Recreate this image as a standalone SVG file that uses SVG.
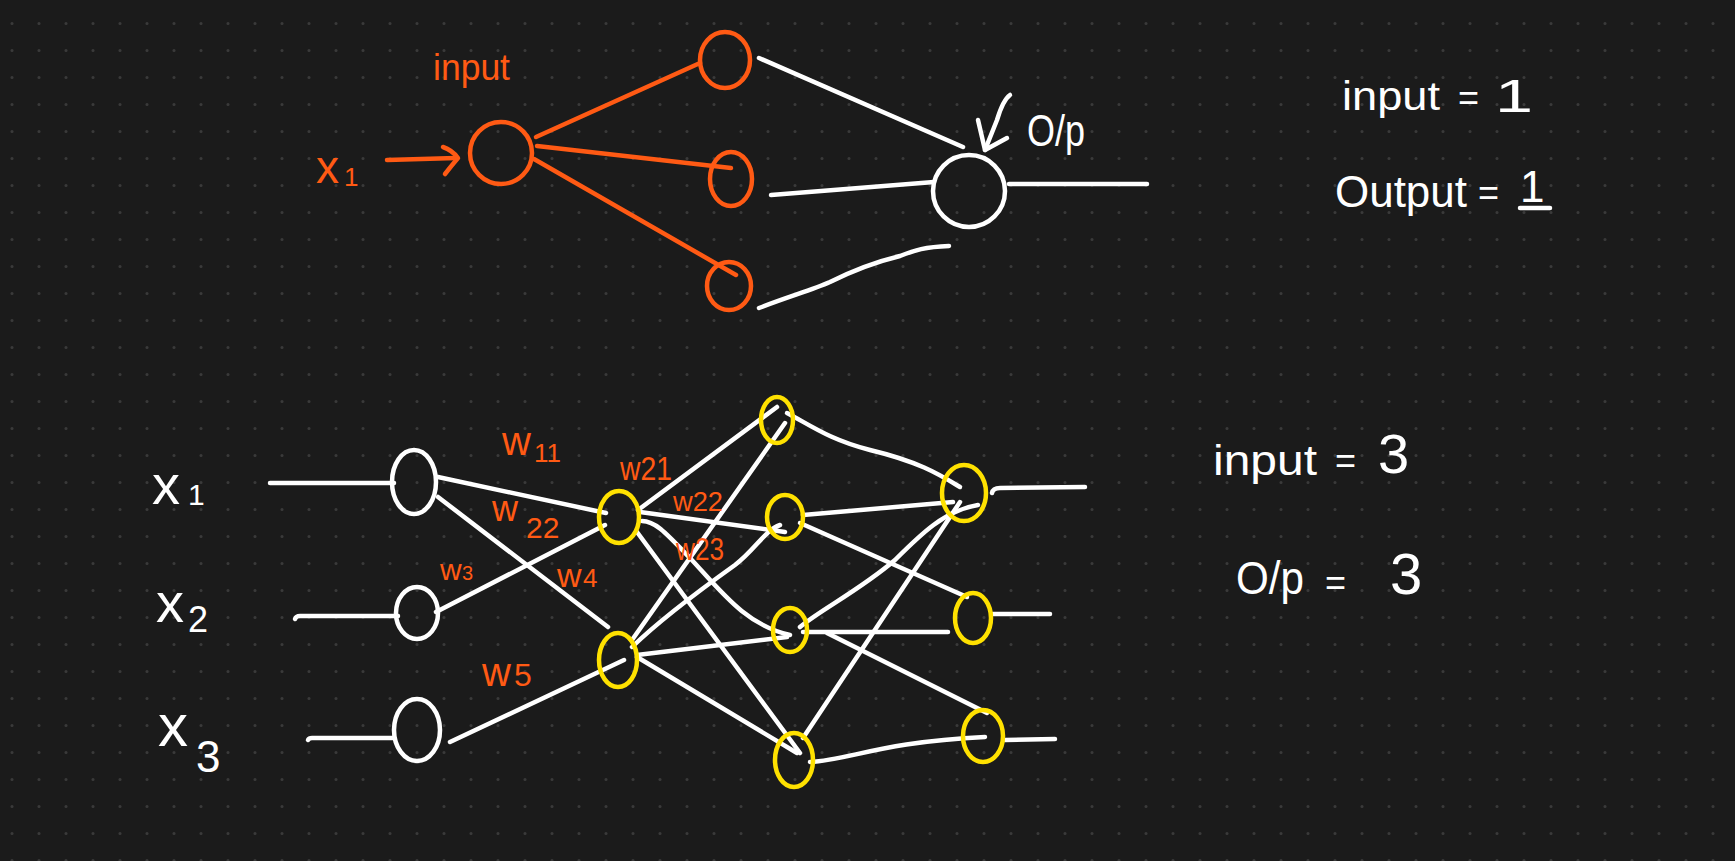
<svg xmlns="http://www.w3.org/2000/svg" width="1735" height="861" viewBox="0 0 1735 861">
<defs>
<pattern id="dots" width="27" height="27" patternUnits="userSpaceOnUse">
<circle cx="12" cy="23.5" r="1.5" fill="#3a3a3a"/>
</pattern>
<style>
.w{stroke:#ffffff;stroke-width:4.5;fill:none;stroke-linecap:round;stroke-linejoin:round}
.o{stroke:#ff5a14;stroke-width:4.5;fill:none;stroke-linecap:round;stroke-linejoin:round}
.y{stroke:#ffe100;stroke-width:4.5;fill:none}
.wn{stroke:#ffffff;stroke-width:4.5;fill:none}
.on{stroke:#ff5a14;stroke-width:4.5;fill:none}
.tw{fill:#ffffff;font-family:"Liberation Sans","DejaVu Sans",sans-serif}
.to{fill:#ff5a14;font-family:"Liberation Sans","DejaVu Sans",sans-serif}
</style>
</defs>
<rect width="1735" height="861" fill="#1b1b1b"/>
<rect width="1735" height="861" fill="url(#dots)"/>

<!-- Top network -->
<g id="top-connectors">
<path class="o" d="M387,160 L456,158"/>
<path class="o" d="M443,147 Q452,150 458,158 Q452,165 445,174"/>
<path class="o" d="M536,137 L700,63"/>
<path class="o" d="M537,146 L731,168"/>
<path class="o" d="M534,159 L736,275"/>
<path class="w" d="M759,58 L963,147"/>
<path class="w" d="M771,195 L934,182"/>
<path class="w" d="M759,308 C790,296 812,290 830,282 C850,272 875,262 900,256 C915,250 925,247 949,246"/>
<path class="w" d="M1009,184 L1147,184"/>
<path class="w" d="M1010,95 Q1003,100 997,120 L985,150"/>
<path class="w" d="M978,120 L985,150 L1007,138"/>
</g>
<g id="top-x1">
<text class="to" x="316" y="183" font-size="46">x</text>
<text class="to" x="344" y="186" font-size="26">1</text>
</g>
<g id="top-input-label"><text class="to" x="433" y="80" font-size="36" textLength="77" lengthAdjust="spacingAndGlyphs">input</text></g>
<g id="top-input-node"><circle class="on" cx="501" cy="153" r="31"/></g>
<g id="top-hidden-1"><ellipse class="on" cx="725" cy="60" rx="25" ry="28"/></g>
<g id="top-hidden-2"><ellipse class="on" cx="731" cy="179" rx="21" ry="27"/></g>
<g id="top-hidden-3"><ellipse class="on" cx="729" cy="286" rx="22" ry="24"/></g>
<g id="top-output-node"><circle class="wn" cx="969" cy="191" r="36"/></g>
<g id="top-op-label"><text class="tw" x="1027" y="146" font-size="44" textLength="58" lengthAdjust="spacingAndGlyphs">O/p</text></g>

<g id="top-summary">
<text class="tw" x="1342" y="110" font-size="40" textLength="98" lengthAdjust="spacingAndGlyphs">input</text>
<text class="tw" x="1458" y="110" font-size="36">=</text>
<text class="tw" x="1495" y="112" font-size="46" textLength="38" lengthAdjust="spacingAndGlyphs">1</text>
<text class="tw" x="1335" y="207" font-size="44" textLength="132" lengthAdjust="spacingAndGlyphs">Output</text>
<text class="tw" x="1478" y="205" font-size="36">=</text>
<text class="tw" x="1520" y="202" font-size="44">1</text>
<path class="w" d="M1520,208 L1550,208"/>
</g>

<!-- Bottom network -->
<g id="connectors">
<path class="w" d="M270,483 L394,483"/>
<path class="w" d="M295,619 Q296,616 300,616 L398,616"/>
<path class="w" d="M308,740 Q309,738 312,738 L394,738"/>
<path class="w" d="M438,477 L606,513"/>
<path class="w" d="M438,497 L608,627"/>
<path class="w" d="M436,612 L605,525"/>
<path class="w" d="M450,742 L624,660"/>
<path class="w" d="M638,510 L777,407"/>
<path class="w" d="M640,512 L785,532"/>
<path class="w" d="M642,521 C655,521 665,532 690,558 C720,590 745,625 790,635"/>
<path class="w" d="M637,532 L800,753"/>
<path class="w" d="M632,640 L785,423"/>
<path class="w" d="M632,647 C660,620 700,590 735,565 C755,550 765,530 780,525"/>
<path class="w" d="M637,655 L787,637"/>
<path class="w" d="M637,657 L797,753"/>
<path class="w" d="M787,413 C810,425 830,440 870,450 C920,462 940,475 960,487"/>
<path class="w" d="M803,515 L953,502"/>
<path class="w" d="M800,523 L967,597"/>
<path class="w" d="M800,627 C820,610 860,590 895,560 C920,535 945,510 978,505"/>
<path class="w" d="M803,632 L948,632"/>
<path class="w" d="M827,633 L987,713"/>
<path class="w" d="M803,738 L960,502"/>
<path class="w" d="M810,762 C850,760 880,742 985,737"/>
<path class="w" d="M992,493 Q993,488 1000,488 L1085,487"/>
<path class="w" d="M993,614 L1050,614"/>
<path class="w" d="M1005,740 L1055,739"/>
</g>

<g id="label-x1"><text class="tw" x="152" y="504" font-size="56">x</text><text class="tw" x="188" y="505" font-size="30">1</text></g>
<g id="label-x2"><text class="tw" x="156" y="622" font-size="56">x</text><text class="tw" x="188" y="632" font-size="36">2</text></g>
<g id="label-x3"><text class="tw" x="158" y="746" font-size="60">x</text><text class="tw" x="196" y="772" font-size="44">3</text></g>

<g id="node-i1"><ellipse class="wn" cx="414" cy="482" rx="22" ry="32"/></g>
<g id="node-i2"><ellipse class="wn" cx="417" cy="613" rx="21" ry="26"/></g>
<g id="node-i3"><ellipse class="wn" cx="417" cy="730" rx="23" ry="31"/></g>
<g id="node-h1"><ellipse class="y" cx="619" cy="517" rx="20" ry="26"/></g>
<g id="node-h2"><ellipse class="y" cx="618" cy="660" rx="19" ry="27"/></g>
<g id="node-a"><ellipse class="y" cx="777" cy="420" rx="16" ry="23"/></g>
<g id="node-b"><ellipse class="y" cx="785" cy="517" rx="18" ry="22"/></g>
<g id="node-c"><ellipse class="y" cx="790" cy="630" rx="17" ry="22"/></g>
<g id="node-d"><ellipse class="y" cx="794" cy="760" rx="19" ry="27"/></g>
<g id="node-o1"><ellipse class="y" cx="964" cy="493" rx="22" ry="28"/></g>
<g id="node-o2"><ellipse class="y" cx="973" cy="618" rx="18" ry="25"/></g>
<g id="node-o3"><ellipse class="y" cx="983" cy="736" rx="20" ry="26"/></g>

<g id="weights">
<text class="to" x="502" y="455" font-size="40">w</text><text class="to" x="534" y="462" font-size="26">11</text>
<text class="to" x="492" y="521" font-size="36">w</text><text class="to" x="526" y="538" font-size="30">22</text>
<text class="to" x="440" y="580" font-size="30">w</text><text class="to" x="462" y="580" font-size="20">3</text>
<text class="to" x="557" y="587" font-size="34">w</text><text class="to" x="583" y="587" font-size="26">4</text>
<text class="to" x="482" y="686" font-size="40">w</text><text class="to" x="514" y="686" font-size="32">5</text>
<text class="to" x="620" y="480" font-size="34" textLength="52" lengthAdjust="spacingAndGlyphs">w21</text>
<text class="to" x="673" y="511" font-size="28" textLength="50" lengthAdjust="spacingAndGlyphs">w22</text>
<text class="to" x="676" y="560" font-size="32" textLength="48" lengthAdjust="spacingAndGlyphs">w23</text>
</g>

<g id="bottom-summary">
<text class="tw" x="1213" y="475" font-size="42" textLength="104" lengthAdjust="spacingAndGlyphs">input</text>
<text class="tw" x="1335" y="473" font-size="36">=</text>
<text class="tw" x="1378" y="473" font-size="56">3</text>
<text class="tw" x="1236" y="594" font-size="46" textLength="68" lengthAdjust="spacingAndGlyphs">O/p</text>
<text class="tw" x="1325" y="595" font-size="36">=</text>
<text class="tw" x="1390" y="594" font-size="58">3</text>
</g>
</svg>
